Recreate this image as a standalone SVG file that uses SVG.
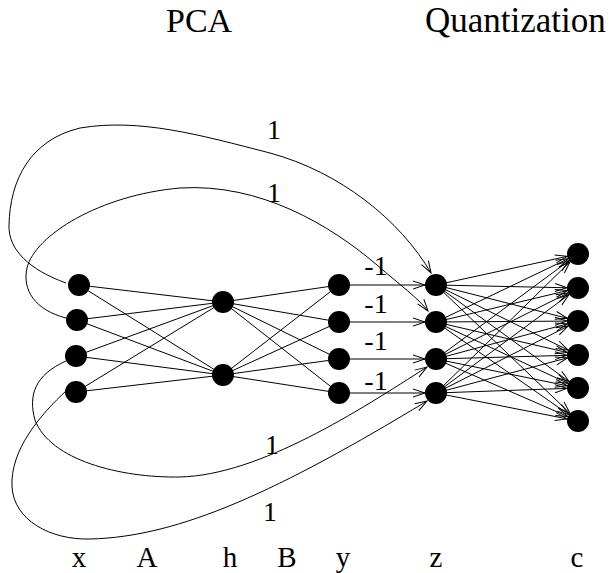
<svg xmlns="http://www.w3.org/2000/svg" width="611" height="573" viewBox="0 0 611 573">
<style>
.f{font-family:"Liberation Serif","Times New Roman",serif;fill:#000}
.t{font-size:34px}
.q{font-size:35px}
.l{font-size:28px;text-anchor:middle}
.b{font-size:29px;text-anchor:middle}
.e{stroke:#000;stroke-width:1;fill:none}
.n{fill:#000}
</style>
<defs>
<marker id="ah" markerUnits="userSpaceOnUse" markerWidth="40" markerHeight="20" refX="23" refY="4" orient="auto" overflow="visible">
<path d="M0,0 L12,4 L0,8" fill="none" stroke="#000" stroke-width="1"/>
</marker>
<marker id="at" markerUnits="userSpaceOnUse" markerWidth="40" markerHeight="20" refX="12" refY="4" orient="auto" overflow="visible">
<path d="M0,0 L12,4 L0,8" fill="none" stroke="#000" stroke-width="1"/>
</marker>
</defs>
<rect width="611" height="573" fill="#fff"/>
<g id="titles" class="f">
<text class="t" x="166" y="32">PCA</text>
<text class="q" x="425" y="32">Quantization</text>
</g>
<g id="connectors" class="e">
<line x1="79" y1="285" x2="223" y2="302"/><line x1="79" y1="285" x2="223" y2="375"/>
<line x1="77" y1="320" x2="223" y2="302"/><line x1="77" y1="320" x2="223" y2="375"/>
<line x1="76" y1="356" x2="223" y2="302"/><line x1="76" y1="356" x2="223" y2="375"/>
<line x1="76" y1="392" x2="223" y2="302"/><line x1="76" y1="392" x2="223" y2="375"/>
<line x1="223" y1="302" x2="339" y2="285"/><line x1="223" y1="302" x2="339" y2="322"/>
<line x1="223" y1="302" x2="339" y2="359"/><line x1="223" y1="302" x2="339" y2="393"/>
<line x1="223" y1="375" x2="339" y2="285"/><line x1="223" y1="375" x2="339" y2="322"/>
<line x1="223" y1="375" x2="339" y2="359"/><line x1="223" y1="375" x2="339" y2="393"/>
<line x1="339" y1="285" x2="436" y2="285" marker-end="url(#ah)"/>
<line x1="339" y1="322" x2="436" y2="322" marker-end="url(#ah)"/>
<line x1="339" y1="359" x2="436" y2="359" marker-end="url(#ah)"/>
<line x1="339" y1="393" x2="436" y2="393" marker-end="url(#ah)"/>
<g marker-end="url(#ah)">
<line x1="436" y1="285" x2="578" y2="254"/><line x1="436" y1="285" x2="578" y2="288"/><line x1="436" y1="285" x2="578" y2="321"/>
<line x1="436" y1="285" x2="578" y2="355"/><line x1="436" y1="285" x2="578" y2="388"/><line x1="436" y1="285" x2="578" y2="421"/>
<line x1="436" y1="322" x2="578" y2="254"/><line x1="436" y1="322" x2="578" y2="288"/><line x1="436" y1="322" x2="578" y2="321"/>
<line x1="436" y1="322" x2="578" y2="355"/><line x1="436" y1="322" x2="578" y2="388"/><line x1="436" y1="322" x2="578" y2="421"/>
<line x1="436" y1="359" x2="578" y2="254"/><line x1="436" y1="359" x2="578" y2="288"/><line x1="436" y1="359" x2="578" y2="321"/>
<line x1="436" y1="359" x2="578" y2="355"/><line x1="436" y1="359" x2="578" y2="388"/><line x1="436" y1="359" x2="578" y2="421"/>
<line x1="436" y1="393" x2="578" y2="254"/><line x1="436" y1="393" x2="578" y2="288"/><line x1="436" y1="393" x2="578" y2="321"/>
<line x1="436" y1="393" x2="578" y2="355"/><line x1="436" y1="393" x2="578" y2="388"/><line x1="436" y1="393" x2="578" y2="421"/>
</g>
<path d="M66,283 C 30,270 8,250 9,225 C 10,180 30,140 80,128 C 140,118 200,135 270,153 C 340,172 400,220 431,273" marker-end="url(#at)"/>
<path d="M66,318 C 35,310 22,290 27,268 C 35,235 100,195 180,188 C 260,183 330,225 377,265 C 400,285 418,298 428,311" marker-end="url(#at)"/>
<path d="M66,361 C 35,375 28,395 35,420 C 50,460 120,478 180,477 C 260,475 360,410 427,367" marker-end="url(#at)"/>
<path d="M67,390 C 40,415 10,450 12,487 C 14,520 50,540 90,539 C 180,537 280,490 427,401" marker-end="url(#at)"/>
</g>
<g id="labels" class="f">
<text class="l" x="274" y="139">1</text>
<text class="l" x="274" y="202">1</text>
<text class="l" x="272" y="454">1</text>
<text class="l" x="270" y="521">1</text>
<text class="l" x="376" y="275">-1</text>
<text class="l" x="376" y="313">-1</text>
<text class="l" x="376" y="350">-1</text>
<text class="l" x="376" y="390">-1</text>
<text class="b" x="79" y="567">x</text>
<text class="b" x="147" y="567">A</text>
<text class="b" x="230" y="567">h</text>
<text class="b" x="287" y="567">B</text>
<text class="b" x="343" y="567">y</text>
<text class="b" x="436" y="567">z</text>
<text class="b" x="577" y="567">c</text>
</g>
<g id="x1"><circle class="n" cx="79" cy="285" r="11"/></g>
<g id="x2"><circle class="n" cx="77" cy="320" r="11"/></g>
<g id="x3"><circle class="n" cx="76" cy="356" r="11"/></g>
<g id="x4"><circle class="n" cx="76" cy="392" r="11"/></g>
<g id="h1"><circle class="n" cx="223" cy="302" r="11"/></g>
<g id="h2"><circle class="n" cx="223" cy="375" r="11"/></g>
<g id="y1"><circle class="n" cx="339" cy="285" r="11"/></g>
<g id="y2"><circle class="n" cx="339" cy="322" r="11"/></g>
<g id="y3"><circle class="n" cx="339" cy="359" r="11"/></g>
<g id="y4"><circle class="n" cx="339" cy="393" r="11"/></g>
<g id="z1"><circle class="n" cx="436" cy="285" r="11"/></g>
<g id="z2"><circle class="n" cx="436" cy="322" r="11"/></g>
<g id="z3"><circle class="n" cx="436" cy="359" r="11"/></g>
<g id="z4"><circle class="n" cx="436" cy="393" r="11"/></g>
<g id="c1"><circle class="n" cx="578" cy="254" r="11"/></g>
<g id="c2"><circle class="n" cx="578" cy="288" r="11"/></g>
<g id="c3"><circle class="n" cx="578" cy="321" r="11"/></g>
<g id="c4"><circle class="n" cx="578" cy="355" r="11"/></g>
<g id="c5"><circle class="n" cx="578" cy="388" r="11"/></g>
<g id="c6"><circle class="n" cx="578" cy="421" r="11"/></g>
</svg>
